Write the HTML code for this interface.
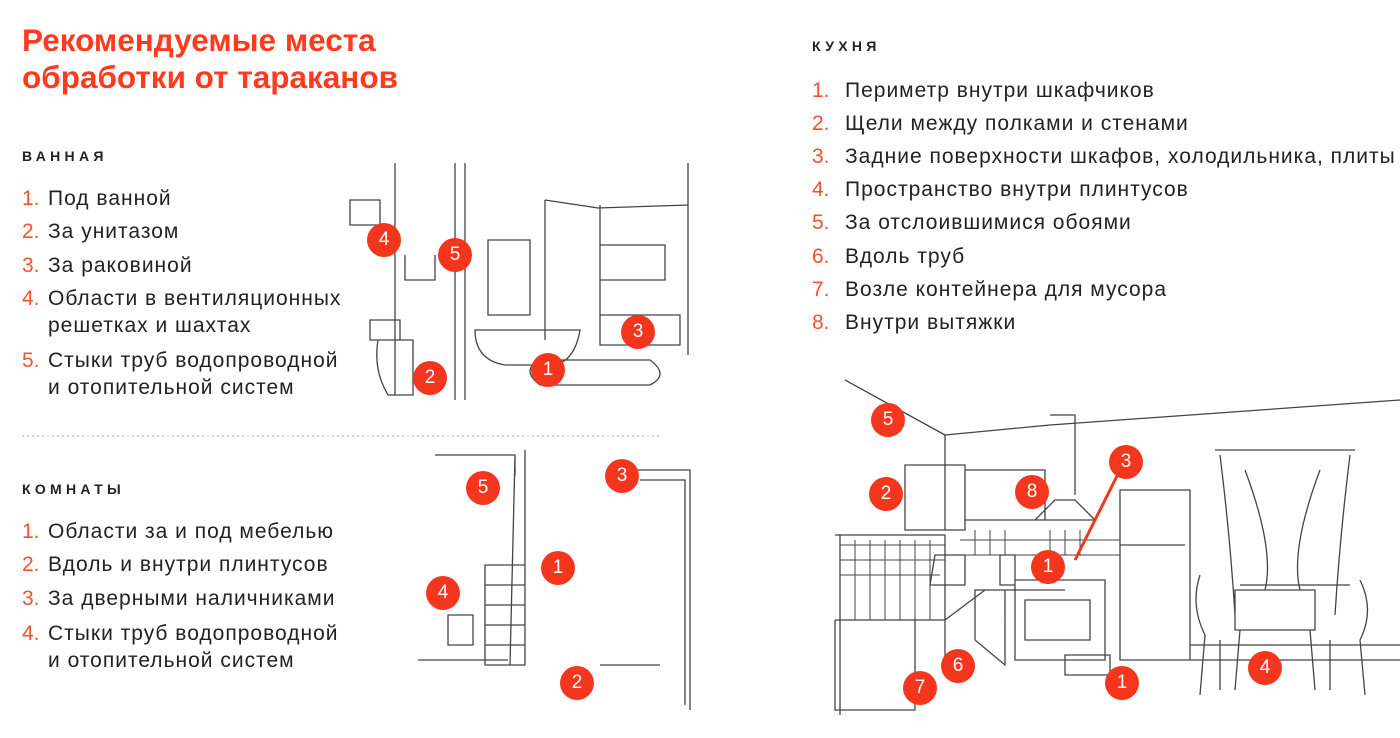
<!DOCTYPE html>
<html><head><meta charset="utf-8"><style>
body{margin:0;width:1400px;height:738px;background:#fff;position:relative;overflow:hidden;font-family:"Liberation Sans","Noto Sans CJK SC",sans-serif;color:#222}
.t{position:absolute;white-space:nowrap}
.h1{left:22px;top:22px;font-size:31.5px;font-weight:bold;color:#ff3b1f;line-height:37px}
.sec{font-size:14px;font-weight:bold;letter-spacing:4.3px;color:#222}
.li{font-size:21px;line-height:27px;letter-spacing:1px}
.li b{font-weight:normal;color:#f0542c;display:inline-block;width:26px;letter-spacing:0}
.rl b{width:33px}
.m{position:absolute;width:34px;height:34px;background:#f4361e;color:#fff;font-size:19px;text-align:center;line-height:34px;border-radius:50%}
svg{position:absolute;left:0;top:0}
</style></head><body>
<svg width="1400" height="738" fill="none" stroke="#444" stroke-width="1.3">
<path d="M395 163V395M465 163V400M455 163V400M545 200V340M600 205V330M688 163V355M545 200L598 208L688 205M488 240h42v75h-42zM600 245h65v35h-65zM475 330q0 30 30 35h50q20-5 25-35zM540 360q-20 10 0 25h110q20-10 0-25zM370 320h30v20h-30zM378 340q-5 30 10 55h25v-55zM350 200h30v25h-30zM405 255v25h30v-25M600 315h80v30h-80z"/>
<path d="M22 436H660" stroke="#bbb" stroke-dasharray="2 3"/>
<path d="M435 455h80v20M515 455l-5 210M525 450v215M630 470h60v240M640 480h45v225M485 565h40v100h-40zM485 585h40M485 605h40M485 625h40M485 645h40M418 660h90M448 615h25v30h-25zM600 665h60"/>
<path d="M845 380L945 435M945 435V530M945 435L1050 425L1400 400M905 465h60v65h-60zM965 470h80v50h-80zM1050 415h25v80M1035 520h60l-20-20h-20zM1120 490h70v170h-70zM1120 545h65M835 535h110v130M840 535v180M835 620h110l40-30h80M835 620v90h80v-90M1015 580h90v80h-90zM1025 600h65v40h-65zM1065 655h45v20h-45zM975 590h30v75l-30-25zM935 555h30v30h-35zM1000 555h15v30h-15zM1215 450h140M1220 455q10 80 15 160M1350 455q-10 80-15 160M1245 470q30 80 20 120M1320 470q-30 80-20 120M1240 585h110M1235 590h80v40h-80zM1240 630l-5 60M1310 630l5 60M1200 575q-10 30 5 60l-5 60M1220 640v50M1360 580q15 30 0 60l5 55M1330 640v50M1190 645h210M1190 660h210"/>
<path d="M840 545h105M840 560h105M840 575h100M855 540v80M870 540v80M885 540v80M900 540v80M915 540v80M930 540v80M960 540h160M960 555h160M975 530v25M990 530v25M1005 530v25M1050 530v25M1065 530v25M1080 530v25" stroke-width="1"/>
</svg>
<div class="t h1">Рекомендуемые места<br>обработки от тараканов</div>
<div class="t sec" style="left:22px;top:148px">ВАННАЯ</div>
<div class="t li" style="left:22px;top:185px"><b>1.</b>Под ванной</div>
<div class="t li" style="left:22px;top:218px"><b>2.</b>За унитазом</div>
<div class="t li" style="left:22px;top:252px"><b>3.</b>За раковиной</div>
<div class="t li" style="left:22px;top:285px"><b>4.</b>Области в вентиляционных<br><b></b>решетках и шахтах</div>
<div class="t li" style="left:22px;top:347px"><b>5.</b>Стыки труб водопроводной<br><b></b>и отопительной систем</div>
<div class="t sec" style="left:22px;top:481px">КОМНАТЫ</div>
<div class="t li" style="left:22px;top:518px"><b>1.</b>Области за и под мебелью</div>
<div class="t li" style="left:22px;top:551px"><b>2.</b>Вдоль и внутри плинтусов</div>
<div class="t li" style="left:22px;top:585px"><b>3.</b>За дверными наличниками</div>
<div class="t li" style="left:22px;top:620px"><b>4.</b>Стыки труб водопроводной<br><b></b>и отопительной систем</div>
<div class="t sec" style="left:812px;top:38px">КУХНЯ</div>
<div class="t li rl" style="left:812px;top:77px"><b>1.</b>Периметр внутри шкафчиков</div>
<div class="t li rl" style="left:812px;top:110px"><b>2.</b>Щели между полками и стенами</div>
<div class="t li rl" style="left:812px;top:143px"><b>3.</b>Задние поверхности шкафов, холодильника, плиты</div>
<div class="t li rl" style="left:812px;top:176px"><b>4.</b>Пространство внутри плинтусов</div>
<div class="t li rl" style="left:812px;top:209px"><b>5.</b>За отслоившимися обоями</div>
<div class="t li rl" style="left:812px;top:243px"><b>6.</b>Вдоль труб</div>
<div class="t li rl" style="left:812px;top:276px"><b>7.</b>Возле контейнера для мусора</div>
<div class="t li rl" style="left:812px;top:309px"><b>8.</b>Внутри вытяжки</div>
<div class="m" style="left:367px;top:223px">4</div>
<div class="m" style="left:438px;top:238px">5</div>
<div class="m" style="left:621px;top:315px">3</div>
<div class="m" style="left:413px;top:361px">2</div>
<div class="m" style="left:531px;top:353px">1</div>
<div class="m" style="left:466px;top:471px">5</div>
<div class="m" style="left:605px;top:459px">3</div>
<div class="m" style="left:541px;top:551px">1</div>
<div class="m" style="left:426px;top:576px">4</div>
<div class="m" style="left:560px;top:666px">2</div>
<div class="m" style="left:871px;top:403px">5</div>
<div class="m" style="left:1109px;top:445px">3</div>
<div class="m" style="left:869px;top:477px">2</div>
<div class="m" style="left:1015px;top:475px">8</div>
<div class="m" style="left:1031px;top:550px">1</div>
<div class="m" style="left:941px;top:649px">6</div>
<div class="m" style="left:903px;top:671px">7</div>
<div class="m" style="left:1105px;top:666px">1</div>
<div class="m" style="left:1248px;top:651px">4</div>
<svg width="1400" height="738"><path d="M1120 470L1075 560" stroke="#f4361e" stroke-width="3"/></svg>
</body></html>
